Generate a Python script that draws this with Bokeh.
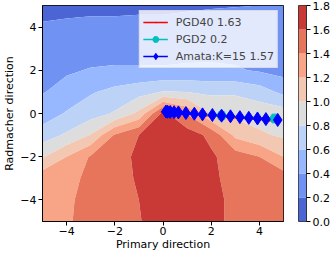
import numpy as np
from bokeh.plotting import figure
from bokeh.layouts import row
from bokeh.models import (Range1d, FixedTicker, PrintfTickFormatter,
                          CustomJSTickFormatter, Legend, LegendItem)
from bokeh.embed import file_html
from bokeh.resources import INLINE

# ---------------- data ----------------
grid_x = [-5, -4, -3, -2, -1, 0, 1, 2, 3, 4, 5]
grid_y = [-5, -4, -3, -2, -1, 0, 1, 2, 3, 4, 5]
# loss surface, one row per grid_y value (bottom to top), columns follow grid_x
loss = [
    [1.37, 1.39, 1.43, 1.50, 1.59, 1.68, 1.72, 1.66, 1.55, 1.56, 1.56],
    [1.36, 1.38, 1.44, 1.50, 1.60, 1.70, 1.73, 1.66, 1.55, 1.54, 1.55],
    [1.33, 1.36, 1.43, 1.50, 1.63, 1.72, 1.74, 1.64, 1.53, 1.51, 1.51],
    [0.98, 1.20, 1.42, 1.50, 1.65, 1.74, 1.75, 1.63, 1.50, 1.40, 1.20],
    [0.70, 0.83, 1.01, 1.42, 1.60, 1.72, 1.70, 1.55, 1.15, 1.03, 0.97],
    [0.49, 0.62, 0.72, 0.82, 1.05, 1.66, 1.38, 1.00, 0.95, 0.92, 0.90],
    [0.39, 0.46, 0.58, 0.66, 0.73, 0.81, 0.80, 0.76, 0.77, 0.70, 0.55],
    [0.34, 0.38, 0.41, 0.42, 0.42, 0.42, 0.43, 0.43, 0.42, 0.38, 0.33],
    [0.30, 0.31, 0.33, 0.34, 0.34, 0.33, 0.34, 0.35, 0.34, 0.32, 0.30],
    [0.21, 0.22, 0.23, 0.23, 0.24, 0.24, 0.25, 0.25, 0.26, 0.26, 0.26],
    [0.17, 0.17, 0.17, 0.17, 0.17, 0.17, 0.18, 0.19, 0.195, 0.20, 0.22],
]
levels = [0.0, 0.2, 0.4, 0.6, 0.8, 1.0, 1.2, 1.4, 1.6, 1.8]
band_colors = ["#4b65d5", "#7092f3", "#97b8ff", "#bcd2f7", "#dddddd",
               "#f3c8b2", "#f7a586", "#e7755c", "#c93936"]

pgd40_label = "PGD40 1.63"
pgd40_x = [-0.05, 0.03, 0.12, 0.22, 0.33, 0.45, 0.57, 0.69, 0.81, 0.93,
           1.05, 1.175, 1.30, 1.425, 1.55, 1.675, 1.80, 1.925, 2.05, 2.175,
           2.30, 2.425, 2.55, 2.675, 2.80, 2.925, 3.05, 3.175, 3.30, 3.425,
           3.55, 3.675, 3.80, 3.925, 4.05, 4.175, 4.30, 4.425, 4.55, 4.675, 4.74]
pgd40_y = [0.06, 0.06, 0.05, 0.04, 0.03, 0.02, 0.01, 0.00, -0.01, -0.02,
           -0.03, -0.04, -0.05, -0.06, -0.07, -0.08, -0.09, -0.10, -0.11, -0.12,
           -0.14, -0.15, -0.16, -0.17, -0.18, -0.19, -0.20, -0.21, -0.22, -0.23,
           -0.24, -0.25, -0.26, -0.27, -0.28, -0.29, -0.31, -0.32, -0.33, -0.34, -0.34]

pgd2_label = "PGD2 0.2"
pgd2_x = [0.19, 2.43, 4.63]
pgd2_y = [0.08, -0.10, -0.23]

amata_label = "Amata:K=15 1.57"
amata_x = [0.12, 0.19, 0.30, 0.46, 0.64, 0.95, 1.30, 1.64, 2.05, 2.43,
           2.80, 3.19, 3.56, 3.92, 4.27, 4.76]
amata_y = [0.09, 0.08, 0.07, 0.06, 0.05, 0.02, -0.01, -0.04, -0.07, -0.10,
           -0.13, -0.17, -0.20, -0.23, -0.26, -0.30]

x_ticks = [-4, -2, 0, 2, 4]
y_ticks = [-4, -2, 0, 2, 4]

# ---------------- main plot ----------------
FONT = "DejaVu Sans"
FS = "11px"

p = figure(width=290, height=253, x_range=Range1d(-5, 5), y_range=Range1d(-5, 5),
           output_backend="svg", toolbar_location=None,
           min_border_left=36, min_border_right=7, min_border_top=5, min_border_bottom=31)

p.contour(grid_x, grid_y, np.array(loss), levels, fill_color=band_colors, line_color=None)

r_blue_line = p.line(amata_x, amata_y, line_color="#0000ff", line_width=1.5)
r_red_line = p.line(pgd40_x, pgd40_y, line_color="#ff0000", line_width=1.5)
r_red_pts = p.scatter(pgd40_x, pgd40_y, marker="dot", size=9,
                      fill_color="#ff0000", line_color="#ff0000")
r_cyan_line = p.line(pgd2_x, pgd2_y, line_color="#00bfbf", line_width=1.5)
r_cyan_pts = p.scatter(pgd2_x, pgd2_y, marker="hex", size=10,
                       fill_color="#00bfbf", line_color="#00bfbf")
r_blue_pts = p.scatter(amata_x, amata_y, marker="diamond", size=13,
                       fill_color="#0000ff", line_color="#0000ff")

legend = Legend(items=[
    LegendItem(label=pgd40_label, renderers=[r_red_line, r_red_pts]),
    LegendItem(label=pgd2_label, renderers=[r_cyan_line, r_cyan_pts]),
    LegendItem(label=amata_label, renderers=[r_blue_line, r_blue_pts]),
], location="top_right")
legend.margin = 5
legend.padding = 3
legend.spacing = 1
legend.glyph_width = 25
legend.glyph_height = 16
legend.label_height = 16
legend.label_standoff = 8
legend.label_text_font = FONT
legend.label_text_font_size = FS
legend.border_line_color = "#cccccc"
legend.border_line_width = 1
legend.background_fill_color = "white"
legend.background_fill_alpha = 0.8
p.add_layout(legend)

p.xaxis.ticker = FixedTicker(ticks=x_ticks)
p.yaxis.ticker = FixedTicker(ticks=y_ticks)
p.xaxis.formatter = CustomJSTickFormatter(
    code="return (tick < 0 ? '\\u2212' : '') + Math.abs(tick).toFixed(0);")
p.yaxis.formatter = CustomJSTickFormatter(
    code="return (tick < 0 ? '\\u2212' : '') + Math.abs(tick).toFixed(0);")
p.xaxis.axis_label = "Primary direction"
p.yaxis.axis_label = "Radmacher direction"
for ax in p.axis:
    ax.major_tick_out = 4
    ax.major_tick_in = 0
    ax.minor_tick_out = 0
    ax.minor_tick_in = 0
    ax.major_tick_line_color = "black"
    ax.axis_line_color = "black"
    ax.major_label_text_font = FONT
    ax.major_label_text_font_size = FS
    ax.major_label_text_color = "black"
    ax.axis_label_text_font = FONT
    ax.axis_label_text_font_size = FS
    ax.axis_label_text_font_style = "normal"
    ax.axis_label_text_color = "black"
p.xaxis.major_label_standoff = 1
p.xaxis.axis_label_standoff = 0
p.yaxis.major_label_standoff = 2
p.yaxis.axis_label_standoff = 1
p.grid.visible = False
p.outline_line_color = "black"
p.outline_line_alpha = 1.0
p.background_fill_color = "white"
p.border_fill_color = "white"

# ---------------- colour bar ----------------
cb = figure(width=42, height=253, x_range=Range1d(0, 1), y_range=Range1d(0, 1.8),
            output_backend="svg", toolbar_location=None, y_axis_location="right",
            min_border_left=8, min_border_right=22, min_border_top=5, min_border_bottom=31)
cb.quad(left=0, right=1, bottom=levels[:-1], top=levels[1:],
        fill_color=band_colors, line_color=None)
cb.xaxis.visible = False
cb.grid.visible = False
cb.yaxis.ticker = FixedTicker(ticks=levels)
cb.yaxis.formatter = PrintfTickFormatter(format="%.1f")
cb.yaxis.major_tick_out = 4
cb.yaxis.major_tick_in = 0
cb.yaxis.minor_tick_out = 0
cb.yaxis.minor_tick_in = 0
cb.yaxis.axis_line_color = "#333333"
cb.yaxis.major_tick_line_color = "black"
cb.yaxis.major_label_text_font = FONT
cb.yaxis.major_label_text_font_size = FS
cb.yaxis.major_label_text_color = "black"
cb.yaxis.major_label_standoff = 2
cb.outline_line_color = "#333333"
cb.outline_line_alpha = 1.0
cb.border_fill_color = "white"

layout = row(p, cb)
open("out.html", "w").write(file_html(layout, INLINE))
